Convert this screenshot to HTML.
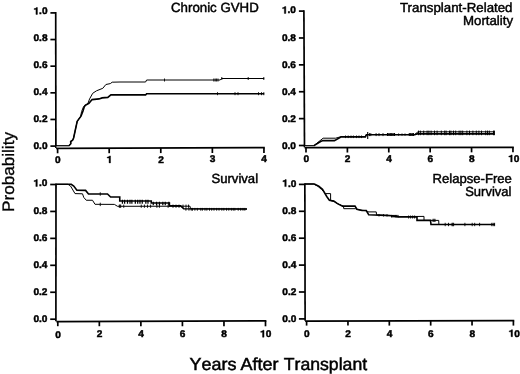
<!DOCTYPE html>
<html><head><meta charset="utf-8"><style>
html,body{margin:0;padding:0;background:#fff;width:520px;height:374px;overflow:hidden;}
text.r{stroke:#000;stroke-width:0.45px;}
text.big{stroke:#000;stroke-width:0.5px;font-kerning:none;}
svg{text-rendering:geometricPrecision;will-change:transform;filter:grayscale(1);position:absolute;left:0;top:0;display:block;font-family:"Liberation Sans", sans-serif;fill:#000;}
</style></head><body>
<svg width="520" height="374" viewBox="0 0 520 374">
<rect width="520" height="374" fill="#fff"/>
<line x1="55.7" y1="12.05" x2="55.9" y2="148.1" stroke="#000" stroke-width="1.7"/>
<line x1="50.4" y1="12.90" x2="55.70" y2="12.90" stroke="#000" stroke-width="1.7"/>
<path transform="translate(33.46,14.42) scale(0.01014,-0.00970)" d="M392 0H245V500H62V598C165 600 248 632 280 716H392Z" fill="#000" stroke="#000" stroke-width="40"/>
<text transform="translate(39.10,14.42) scale(1.045,1)" text-anchor="start" font-size="9.7" font-weight="bold" stroke="#000" stroke-width="0.45">.0</text>
<line x1="50.4" y1="39.54" x2="55.74" y2="39.54" stroke="#000" stroke-width="1.7"/>
<text transform="translate(47.55,41.32) scale(1.045,1)" text-anchor="end" font-size="9.7" font-weight="bold" stroke="#000" stroke-width="0.45">0.8</text>
<line x1="50.4" y1="66.18" x2="55.78" y2="66.18" stroke="#000" stroke-width="1.7"/>
<text transform="translate(47.55,68.22) scale(1.045,1)" text-anchor="end" font-size="9.7" font-weight="bold" stroke="#000" stroke-width="0.45">0.6</text>
<line x1="50.4" y1="92.82" x2="55.82" y2="92.82" stroke="#000" stroke-width="1.7"/>
<text transform="translate(47.55,95.12) scale(1.045,1)" text-anchor="end" font-size="9.7" font-weight="bold" stroke="#000" stroke-width="0.45">0.4</text>
<line x1="50.4" y1="119.46" x2="55.86" y2="119.46" stroke="#000" stroke-width="1.7"/>
<text transform="translate(47.55,122.02) scale(1.045,1)" text-anchor="end" font-size="9.7" font-weight="bold" stroke="#000" stroke-width="0.45">0.2</text>
<line x1="50.4" y1="146.10" x2="55.90" y2="146.10" stroke="#000" stroke-width="1.7"/>
<text transform="translate(47.55,148.92) scale(1.045,1)" text-anchor="end" font-size="9.7" font-weight="bold" stroke="#000" stroke-width="0.45">0.0</text>
<line x1="56.15" y1="148.4" x2="264.8" y2="147.65" stroke="#000" stroke-width="1.7"/>
<line x1="57.60" y1="148.40" x2="57.60" y2="153.30" stroke="#000" stroke-width="1.7"/>
<text transform="translate(57.80,163.10) scale(1.045,1)" text-anchor="middle" font-size="9.7" font-weight="bold" stroke="#000" stroke-width="0.45">0</text>
<line x1="109.19" y1="148.21" x2="109.19" y2="153.20" stroke="#000" stroke-width="1.7"/>
<path transform="translate(106.57,162.88) scale(0.01014,-0.00970)" d="M392 0H245V500H62V598C165 600 248 632 280 716H392Z" fill="#000" stroke="#000" stroke-width="40"/>
<line x1="160.78" y1="148.03" x2="160.78" y2="153.10" stroke="#000" stroke-width="1.7"/>
<text transform="translate(160.97,162.65) scale(1.045,1)" text-anchor="middle" font-size="9.7" font-weight="bold" stroke="#000" stroke-width="0.45">2</text>
<line x1="212.36" y1="147.84" x2="212.36" y2="153.00" stroke="#000" stroke-width="1.7"/>
<text transform="translate(212.56,162.42) scale(1.045,1)" text-anchor="middle" font-size="9.7" font-weight="bold" stroke="#000" stroke-width="0.45">3</text>
<line x1="263.95" y1="147.65" x2="263.95" y2="152.90" stroke="#000" stroke-width="1.7"/>
<text transform="translate(264.15,162.20) scale(1.045,1)" text-anchor="middle" font-size="9.7" font-weight="bold" stroke="#000" stroke-width="0.45">4</text>
<path d="M56.60,146.85 L69.40,146.85" fill="none" stroke="#9a9a9a" stroke-width="1.5" stroke-linejoin="miter"/>
<path d="M56.00,145.50 L69.40,145.50" fill="none" stroke="#000" stroke-width="0.9" stroke-linejoin="miter"/>
<path d="M69.00,145.50 L70.80,143.80 L70.70,141.50 L72.60,140.30 L73.60,138.00 L75.00,131.50 L77.20,121.30 L80.60,116.40 L81.60,111.50 L83.60,106.50 L85.00,105.30 L87.70,104.00 L89.60,98.90 L92.70,93.30 L96.50,90.80 L102.80,88.30 L105.90,84.50 L110.30,83.60 L112.20,82.20 L120.00,82.00 L145.60,82.00 L146.60,80.00 L220.20,80.00 L221.60,78.50 L264.20,78.50" fill="none" stroke="#000" stroke-width="1.0" stroke-linejoin="miter"/>
<path d="M69.00,145.70 L70.80,143.80 L70.70,141.50 L72.60,140.30 L73.60,138.00 L75.00,131.50 L77.20,121.30 L81.00,116.20 L83.00,111.00 L84.20,107.00 L85.30,105.30 L88.90,103.30 L92.10,99.60 L99.00,98.90 L102.10,97.90 L107.80,97.40 L110.90,94.90 L120.00,94.70 L145.60,94.90 L146.60,93.70 L264.20,93.70" fill="none" stroke="#000" stroke-width="1.6" stroke-linejoin="miter"/>
<path d="M164.50,78.50V81.50M213.80,78.50V81.50M215.20,78.50V81.50M216.60,78.50V81.50M218.00,78.50V81.50" fill="none" stroke="#000" stroke-width="0.9"/>
<path d="M221.80,77.00V80.00M248.20,77.00V80.00M263.80,77.00V80.00" fill="none" stroke="#000" stroke-width="0.9"/>
<path d="M217.50,92.20V95.20M235.00,92.20V95.20M238.00,92.20V95.20M258.50,92.20V95.20M261.50,92.20V95.20M263.80,92.20V95.20" fill="none" stroke="#000" stroke-width="0.9"/>
<line x1="303.9" y1="10.25" x2="304.5" y2="147.29999999999998" stroke="#000" stroke-width="1.7"/>
<line x1="298.9" y1="11.10" x2="303.90" y2="11.10" stroke="#000" stroke-width="1.7"/>
<path transform="translate(281.86,13.47) scale(0.01014,-0.00970)" d="M392 0H245V500H62V598C165 600 248 632 280 716H392Z" fill="#000" stroke="#000" stroke-width="40"/>
<text transform="translate(287.50,13.47) scale(1.045,1)" text-anchor="start" font-size="9.7" font-weight="bold" stroke="#000" stroke-width="0.45">.0</text>
<line x1="298.9" y1="37.98" x2="304.02" y2="37.98" stroke="#000" stroke-width="1.7"/>
<text transform="translate(295.95,40.56) scale(1.045,1)" text-anchor="end" font-size="9.7" font-weight="bold" stroke="#000" stroke-width="0.45">0.8</text>
<line x1="298.9" y1="64.86" x2="304.14" y2="64.86" stroke="#000" stroke-width="1.7"/>
<text transform="translate(295.95,67.65) scale(1.045,1)" text-anchor="end" font-size="9.7" font-weight="bold" stroke="#000" stroke-width="0.45">0.6</text>
<line x1="298.9" y1="91.74" x2="304.26" y2="91.74" stroke="#000" stroke-width="1.7"/>
<text transform="translate(295.95,94.74) scale(1.045,1)" text-anchor="end" font-size="9.7" font-weight="bold" stroke="#000" stroke-width="0.45">0.4</text>
<line x1="298.9" y1="118.62" x2="304.38" y2="118.62" stroke="#000" stroke-width="1.7"/>
<text transform="translate(295.95,121.83) scale(1.045,1)" text-anchor="end" font-size="9.7" font-weight="bold" stroke="#000" stroke-width="0.45">0.2</text>
<line x1="298.9" y1="145.50" x2="304.50" y2="145.50" stroke="#000" stroke-width="1.7"/>
<text transform="translate(295.95,148.92) scale(1.045,1)" text-anchor="end" font-size="9.7" font-weight="bold" stroke="#000" stroke-width="0.45">0.0</text>
<line x1="304.54999999999995" y1="147.6" x2="513.8000000000001" y2="147.3" stroke="#000" stroke-width="1.7"/>
<line x1="306.00" y1="147.60" x2="306.00" y2="152.60" stroke="#000" stroke-width="1.7"/>
<text transform="translate(306.20,162.30) scale(1.045,1)" text-anchor="middle" font-size="9.7" font-weight="bold" stroke="#000" stroke-width="0.45">0</text>
<line x1="347.39" y1="147.54" x2="347.39" y2="152.54" stroke="#000" stroke-width="1.7"/>
<text transform="translate(347.59,162.22) scale(1.045,1)" text-anchor="middle" font-size="9.7" font-weight="bold" stroke="#000" stroke-width="0.45">2</text>
<line x1="388.78" y1="147.48" x2="388.78" y2="152.48" stroke="#000" stroke-width="1.7"/>
<text transform="translate(388.98,162.14) scale(1.045,1)" text-anchor="middle" font-size="9.7" font-weight="bold" stroke="#000" stroke-width="0.45">4</text>
<line x1="430.17" y1="147.42" x2="430.17" y2="152.42" stroke="#000" stroke-width="1.7"/>
<text transform="translate(430.37,162.06) scale(1.045,1)" text-anchor="middle" font-size="9.7" font-weight="bold" stroke="#000" stroke-width="0.45">6</text>
<line x1="471.56" y1="147.36" x2="471.56" y2="152.36" stroke="#000" stroke-width="1.7"/>
<text transform="translate(471.76,161.98) scale(1.045,1)" text-anchor="middle" font-size="9.7" font-weight="bold" stroke="#000" stroke-width="0.45">8</text>
<line x1="512.95" y1="147.30" x2="512.95" y2="152.30" stroke="#000" stroke-width="1.7"/>
<path transform="translate(508.21,161.90) scale(0.01014,-0.00970)" d="M392 0H245V500H62V598C165 600 248 632 280 716H392Z" fill="#000" stroke="#000" stroke-width="40"/>
<text transform="translate(513.85,161.90) scale(1.045,1)" text-anchor="start" font-size="9.7" font-weight="bold" stroke="#000" stroke-width="0.45">0</text>
<path d="M305.00,146.45 L314.60,146.45" fill="none" stroke="#9a9a9a" stroke-width="1.1" stroke-linejoin="miter"/>
<path d="M304.50,145.50 L314.60,145.50" fill="none" stroke="#000" stroke-width="0.9" stroke-linejoin="miter"/>
<path d="M314.00,145.50 L323.10,138.20 L335.60,138.20 L341.30,136.60 L365.40,136.60 L366.20,134.50 L414.70,134.50 L418.00,131.80 L494.60,131.80" fill="none" stroke="#000" stroke-width="1.0" stroke-linejoin="miter"/>
<path d="M314.00,145.60 L320.60,141.50 L323.00,140.60 L334.40,140.60 L341.30,136.80 L365.40,136.90 L366.50,134.70 L414.70,134.70 L417.00,133.90 L494.60,133.90" fill="none" stroke="#000" stroke-width="1.6" stroke-linejoin="miter"/>
<path d="M345.50,135.50V138.10M348.20,135.50V138.10M351.00,135.50V138.10M353.40,135.50V138.10M356.50,135.50V138.10M359.00,135.50V138.10M361.50,135.50V138.10" fill="none" stroke="#000" stroke-width="0.9"/>
<path d="M367.70,131.90V139.10" fill="none" stroke="#000" stroke-width="1.1"/>
<path d="M369.50,133.10V136.10M370.80,133.10V136.10M376.10,133.10V136.10M379.00,133.10V136.10M383.00,133.10V136.10" fill="none" stroke="#000" stroke-width="0.9"/>
<path d="M387.50,133.10V136.10M388.90,133.10V136.10M390.30,133.10V136.10M391.70,133.10V136.10M393.10,133.10V136.10M394.50,133.10V136.10" fill="none" stroke="#000" stroke-width="1.1"/>
<path d="M398.60,133.40V135.80M402.00,133.40V135.80M405.00,133.40V135.80" fill="none" stroke="#000" stroke-width="0.8"/>
<path d="M409.30,133.10V136.10M410.70,133.10V136.10M412.10,133.10V136.10M413.40,133.10V136.10" fill="none" stroke="#000" stroke-width="1.1"/>
<path d="M418.50,130.60V135.20M420.30,130.60V135.20M423.70,130.60V135.20M427.10,130.60V135.20M428.90,130.60V135.20M431.10,130.60V135.20M434.50,130.60V135.20M437.10,130.60V135.20M441.30,130.60V135.20M444.70,130.60V135.20M446.10,130.60V135.20M449.50,130.60V135.20M450.90,130.60V135.20M453.50,130.60V135.20M455.70,130.60V135.20M459.10,130.60V135.20M460.90,130.60V135.20M462.70,130.60V135.20M466.90,130.60V135.20M469.50,130.60V135.20M472.90,130.60V135.20M476.30,130.60V135.20M478.90,130.60V135.20M481.50,130.60V135.20M485.70,130.60V135.20M487.50,130.60V135.20M489.30,130.60V135.20M493.50,130.60V135.20M494.40,130.60V135.20" fill="none" stroke="#000" stroke-width="1.0"/>
<line x1="56.0" y1="183.65" x2="55.9" y2="321.3" stroke="#000" stroke-width="1.7"/>
<line x1="50.2" y1="184.50" x2="56.00" y2="184.50" stroke="#000" stroke-width="1.7"/>
<path transform="translate(33.36,186.47) scale(0.01014,-0.00970)" d="M392 0H245V500H62V598C165 600 248 632 280 716H392Z" fill="#000" stroke="#000" stroke-width="40"/>
<text transform="translate(39.00,186.47) scale(1.045,1)" text-anchor="start" font-size="9.7" font-weight="bold" stroke="#000" stroke-width="0.45">.0</text>
<line x1="50.2" y1="211.44" x2="55.98" y2="211.44" stroke="#000" stroke-width="1.7"/>
<text transform="translate(47.45,213.51) scale(1.045,1)" text-anchor="end" font-size="9.7" font-weight="bold" stroke="#000" stroke-width="0.45">0.8</text>
<line x1="50.2" y1="238.38" x2="55.96" y2="238.38" stroke="#000" stroke-width="1.7"/>
<text transform="translate(47.45,240.55) scale(1.045,1)" text-anchor="end" font-size="9.7" font-weight="bold" stroke="#000" stroke-width="0.45">0.6</text>
<line x1="50.2" y1="265.32" x2="55.94" y2="265.32" stroke="#000" stroke-width="1.7"/>
<text transform="translate(47.45,267.59) scale(1.045,1)" text-anchor="end" font-size="9.7" font-weight="bold" stroke="#000" stroke-width="0.45">0.4</text>
<line x1="50.2" y1="292.26" x2="55.92" y2="292.26" stroke="#000" stroke-width="1.7"/>
<text transform="translate(47.45,294.63) scale(1.045,1)" text-anchor="end" font-size="9.7" font-weight="bold" stroke="#000" stroke-width="0.45">0.2</text>
<line x1="50.2" y1="319.20" x2="55.90" y2="319.20" stroke="#000" stroke-width="1.7"/>
<text transform="translate(47.45,321.67) scale(1.045,1)" text-anchor="end" font-size="9.7" font-weight="bold" stroke="#000" stroke-width="0.45">0.0</text>
<line x1="56.349999999999994" y1="321.6" x2="266.35" y2="320.8" stroke="#000" stroke-width="1.7"/>
<line x1="57.80" y1="321.60" x2="57.80" y2="326.20" stroke="#000" stroke-width="1.7"/>
<text transform="translate(58.00,337.50) scale(1.045,1)" text-anchor="middle" font-size="9.7" font-weight="bold" stroke="#000" stroke-width="0.45">0</text>
<line x1="99.34" y1="321.44" x2="99.34" y2="326.22" stroke="#000" stroke-width="1.7"/>
<text transform="translate(99.54,337.44) scale(1.045,1)" text-anchor="middle" font-size="9.7" font-weight="bold" stroke="#000" stroke-width="0.45">2</text>
<line x1="140.88" y1="321.28" x2="140.88" y2="326.24" stroke="#000" stroke-width="1.7"/>
<text transform="translate(141.08,337.38) scale(1.045,1)" text-anchor="middle" font-size="9.7" font-weight="bold" stroke="#000" stroke-width="0.45">4</text>
<line x1="182.42" y1="321.12" x2="182.42" y2="326.26" stroke="#000" stroke-width="1.7"/>
<text transform="translate(182.62,337.32) scale(1.045,1)" text-anchor="middle" font-size="9.7" font-weight="bold" stroke="#000" stroke-width="0.45">6</text>
<line x1="223.96" y1="320.96" x2="223.96" y2="326.28" stroke="#000" stroke-width="1.7"/>
<text transform="translate(224.16,337.26) scale(1.045,1)" text-anchor="middle" font-size="9.7" font-weight="bold" stroke="#000" stroke-width="0.45">8</text>
<line x1="265.50" y1="320.80" x2="265.50" y2="326.30" stroke="#000" stroke-width="1.7"/>
<path transform="translate(260.06,337.20) scale(0.01014,-0.00970)" d="M392 0H245V500H62V598C165 600 248 632 280 716H392Z" fill="#000" stroke="#000" stroke-width="40"/>
<text transform="translate(265.70,337.20) scale(1.045,1)" text-anchor="start" font-size="9.7" font-weight="bold" stroke="#000" stroke-width="0.45">0</text>
<path d="M55.60,184.30 L68.00,184.30 L70.60,186.10 L75.00,193.60 L82.50,193.80 L83.75,197.40 L86.25,200.25 L92.50,200.25 L95.00,204.30 L114.40,204.40 L117.50,206.30 L190.00,206.20 L190.50,208.80 L247.00,209.00" fill="none" stroke="#000" stroke-width="1.0" stroke-linejoin="miter"/>
<path d="M55.60,184.30 L71.25,184.30 L73.75,186.10 L76.90,190.30 L85.60,190.40 L88.50,194.00 L107.50,194.00 L110.60,197.00 L119.75,197.00 L119.75,201.00 L151.25,201.00 L151.25,203.00 L169.40,203.00 L169.40,205.90 L180.60,205.90 L183.75,208.80 L247.00,209.00" fill="none" stroke="#000" stroke-width="1.6" stroke-linejoin="miter"/>
<path d="M100.25,192.30V195.70" fill="none" stroke="#000" stroke-width="0.9"/>
<path d="M100.25,202.70V206.10" fill="none" stroke="#000" stroke-width="0.9"/>
<path d="M119.30,204.60V207.80M120.00,204.60V207.80M120.70,204.60V207.80M123.75,204.60V207.80M141.25,204.60V207.80M144.40,204.60V207.80M147.50,204.60V207.80M150.60,204.60V207.80M156.90,204.60V207.80M159.40,204.60V207.80M168.10,204.60V207.80M173.00,204.60V207.80M176.00,204.60V207.80M179.00,204.60V207.80M183.00,204.60V207.80M186.00,204.60V207.80M188.50,204.60V207.80" fill="none" stroke="#000" stroke-width="0.9"/>
<path d="M122.44,199.80V203.80M124.63,199.80V203.80M127.49,199.80V203.80M130.01,199.80V203.80M131.88,199.80V203.80M135.31,199.80V203.80M137.71,199.80V203.80M139.96,199.80V203.80M142.24,199.80V203.80M145.84,199.80V203.80M147.97,199.80V203.80" fill="none" stroke="#000" stroke-width="1.25"/>
<path d="M153.26,201.70V205.30M156.55,201.70V205.30M159.46,201.70V205.30M162.81,201.70V205.30M165.27,201.70V205.30M168.86,201.70V205.30" fill="none" stroke="#000" stroke-width="1.2"/>
<path d="M185.92,207.90V210.70M188.96,207.90V210.70M191.23,207.90V210.70M192.49,207.90V210.70M194.89,207.90V210.70M197.35,207.90V210.70M200.75,207.90V210.70M202.36,207.90V210.70M204.98,207.90V210.70M206.87,207.90V210.70M209.51,207.90V210.70M211.69,207.90V210.70M213.99,207.90V210.70M216.67,207.90V210.70M219.02,207.90V210.70M221.82,207.90V210.70M223.85,207.90V210.70M226.55,207.90V210.70M228.80,207.90V210.70M231.34,207.90V210.70M233.24,207.90V210.70M234.88,207.90V210.70M238.20,207.90V210.70M240.70,207.90V210.70M242.97,207.90V210.70M244.85,207.90V210.70" fill="none" stroke="#000" stroke-width="0.9"/>
<line x1="304.85" y1="183.55" x2="305.1" y2="320.8" stroke="#000" stroke-width="1.7"/>
<line x1="298.9" y1="184.40" x2="304.85" y2="184.40" stroke="#000" stroke-width="1.7"/>
<path transform="translate(282.26,186.57) scale(0.01014,-0.00970)" d="M392 0H245V500H62V598C165 600 248 632 280 716H392Z" fill="#000" stroke="#000" stroke-width="40"/>
<text transform="translate(287.90,186.57) scale(1.045,1)" text-anchor="start" font-size="9.7" font-weight="bold" stroke="#000" stroke-width="0.45">.0</text>
<line x1="298.9" y1="211.30" x2="304.90" y2="211.30" stroke="#000" stroke-width="1.7"/>
<text transform="translate(296.35,213.59) scale(1.045,1)" text-anchor="end" font-size="9.7" font-weight="bold" stroke="#000" stroke-width="0.45">0.8</text>
<line x1="298.9" y1="238.20" x2="304.95" y2="238.20" stroke="#000" stroke-width="1.7"/>
<text transform="translate(296.35,240.61) scale(1.045,1)" text-anchor="end" font-size="9.7" font-weight="bold" stroke="#000" stroke-width="0.45">0.6</text>
<line x1="298.9" y1="265.10" x2="305.00" y2="265.10" stroke="#000" stroke-width="1.7"/>
<text transform="translate(296.35,267.63) scale(1.045,1)" text-anchor="end" font-size="9.7" font-weight="bold" stroke="#000" stroke-width="0.45">0.4</text>
<line x1="298.9" y1="292.00" x2="305.05" y2="292.00" stroke="#000" stroke-width="1.7"/>
<text transform="translate(296.35,294.65) scale(1.045,1)" text-anchor="end" font-size="9.7" font-weight="bold" stroke="#000" stroke-width="0.45">0.2</text>
<line x1="298.9" y1="318.90" x2="305.10" y2="318.90" stroke="#000" stroke-width="1.7"/>
<text transform="translate(296.35,321.67) scale(1.045,1)" text-anchor="end" font-size="9.7" font-weight="bold" stroke="#000" stroke-width="0.45">0.0</text>
<line x1="305.15" y1="321.1" x2="514.25" y2="320.6" stroke="#000" stroke-width="1.7"/>
<line x1="306.60" y1="321.10" x2="306.60" y2="325.60" stroke="#000" stroke-width="1.7"/>
<text transform="translate(306.80,337.00) scale(1.045,1)" text-anchor="middle" font-size="9.7" font-weight="bold" stroke="#000" stroke-width="0.45">0</text>
<line x1="347.96" y1="321.00" x2="347.96" y2="325.60" stroke="#000" stroke-width="1.7"/>
<text transform="translate(348.16,336.94) scale(1.045,1)" text-anchor="middle" font-size="9.7" font-weight="bold" stroke="#000" stroke-width="0.45">2</text>
<line x1="389.32" y1="320.90" x2="389.32" y2="325.60" stroke="#000" stroke-width="1.7"/>
<text transform="translate(389.52,336.88) scale(1.045,1)" text-anchor="middle" font-size="9.7" font-weight="bold" stroke="#000" stroke-width="0.45">4</text>
<line x1="430.68" y1="320.80" x2="430.68" y2="325.60" stroke="#000" stroke-width="1.7"/>
<text transform="translate(430.88,336.82) scale(1.045,1)" text-anchor="middle" font-size="9.7" font-weight="bold" stroke="#000" stroke-width="0.45">6</text>
<line x1="472.04" y1="320.70" x2="472.04" y2="325.60" stroke="#000" stroke-width="1.7"/>
<text transform="translate(472.24,336.76) scale(1.045,1)" text-anchor="middle" font-size="9.7" font-weight="bold" stroke="#000" stroke-width="0.45">8</text>
<line x1="513.40" y1="320.60" x2="513.40" y2="325.60" stroke="#000" stroke-width="1.7"/>
<path transform="translate(508.56,336.70) scale(0.01014,-0.00970)" d="M392 0H245V500H62V598C165 600 248 632 280 716H392Z" fill="#000" stroke="#000" stroke-width="40"/>
<text transform="translate(514.20,336.70) scale(1.045,1)" text-anchor="start" font-size="9.7" font-weight="bold" stroke="#000" stroke-width="0.45">0</text>
<path d="M304.60,184.00 L313.50,184.00 L318.00,186.40 L321.50,189.50 L325.60,193.60 L330.60,193.60 L330.60,200.50 L334.00,201.30 L337.50,203.60 L343.50,206.30 L343.75,208.70 L355.60,208.70 L357.00,209.30 L362.00,210.30 L367.00,210.80 L368.00,211.90 L376.25,211.90 L376.50,214.80 L391.25,215.40 L398.75,216.60 L424.00,216.40 L424.00,220.40 L438.70,220.40 L438.90,224.50 L495.00,224.50" fill="none" stroke="#000" stroke-width="1.0" stroke-linejoin="miter"/>
<path d="M304.60,184.00 L314.40,184.00 L318.75,186.10 L322.50,189.25 L326.90,196.75 L329.40,200.25 L333.75,201.10 L337.50,203.60 L342.50,206.10 L355.00,206.10 L356.90,209.25 L362.00,210.50 L366.25,210.50 L368.75,214.80 L391.25,215.70 L398.75,216.90 L417.00,217.00 L417.00,220.40 L430.50,220.40 L431.00,224.50 L495.00,224.50" fill="none" stroke="#000" stroke-width="1.6" stroke-linejoin="miter"/>
<path d="M433.00,218.80V222.00M434.00,218.80V222.00M435.00,218.80V222.00" fill="none" stroke="#000" stroke-width="0.9"/>
<path d="M445.20,222.80V226.20M448.50,222.80V226.20M452.00,222.80V226.20M452.80,222.80V226.20M453.60,222.80V226.20M464.90,222.80V226.20M472.20,222.80V226.20M474.70,222.80V226.20M479.60,222.80V226.20M491.80,222.80V226.20M493.20,222.80V226.20M494.60,222.80V226.20" fill="none" stroke="#000" stroke-width="0.9"/>
<path d="M379.00,214.10V216.50M383.50,214.10V216.50M387.00,214.10V216.50" fill="none" stroke="#000" stroke-width="0.9"/>
<path d="M391.50,214.90V217.50M392.80,214.90V217.50M394.10,214.90V217.50M395.40,214.90V217.50M396.70,214.90V217.50M398.00,214.90V217.50" fill="none" stroke="#000" stroke-width="1.0"/>
<path d="M408.60,215.50V218.50M410.60,215.50V218.50M412.60,215.50V218.50M414.60,215.50V218.50" fill="none" stroke="#000" stroke-width="0.9"/>
<text class="r" x="171" y="11.6" font-size="13.3" textLength="87.8" lengthAdjust="spacingAndGlyphs">Chronic GVHD</text>
<text class="r" x="400" y="11.75" font-size="13.2" textLength="112.5" lengthAdjust="spacingAndGlyphs">Transplant-Related</text>
<text class="r" x="463" y="25" font-size="13.2" textLength="50" lengthAdjust="spacingAndGlyphs">Mortality</text>
<text class="r" x="211.4" y="182.9" font-size="13.2" textLength="46.7" lengthAdjust="spacingAndGlyphs">Survival</text>
<text class="r" x="432.5" y="183.3" font-size="13.2" textLength="79.4" lengthAdjust="spacingAndGlyphs">Relapse-Free</text>
<text class="r" x="465.2" y="196.2" font-size="13.2" textLength="46.2" lengthAdjust="spacingAndGlyphs">Survival</text>
<text class="big" x="189.5" y="369.6" font-size="17.4" textLength="46.9" lengthAdjust="spacingAndGlyphs">Years</text>
<text class="big" x="240.5" y="369.6" font-size="17.4" textLength="38.0" lengthAdjust="spacingAndGlyphs">After</text>
<text class="big" x="283.8" y="369.6" font-size="17.4" textLength="83.3" lengthAdjust="spacingAndGlyphs">Transplant</text>
<text class="big" style="stroke-width:0.3px" transform="translate(14.4,212.0) rotate(-90)" x="0" y="0" font-size="16.6" textLength="80" lengthAdjust="spacingAndGlyphs">Probability</text>
</svg>
</body></html>
